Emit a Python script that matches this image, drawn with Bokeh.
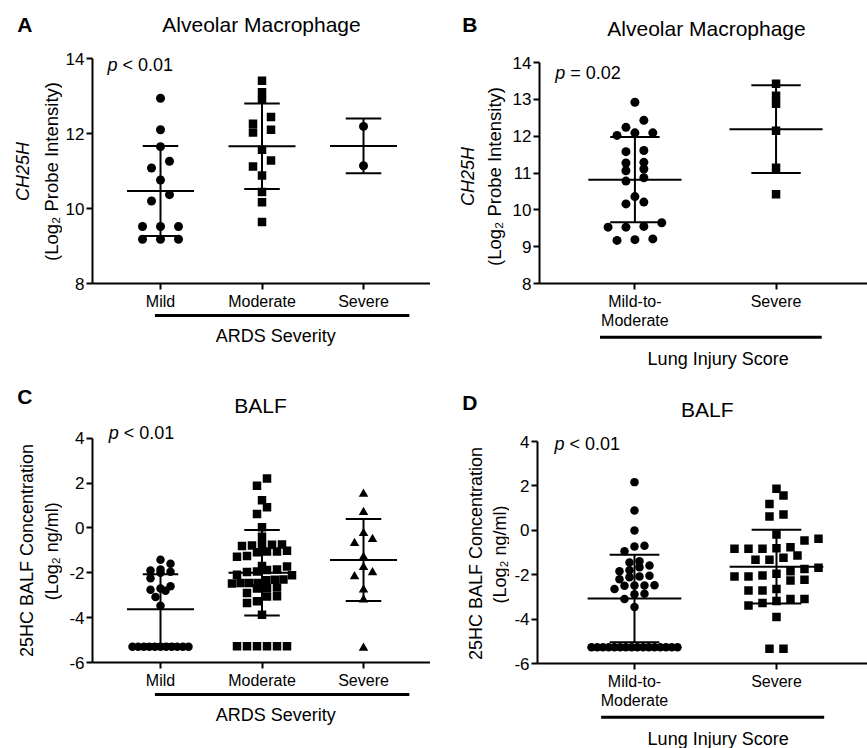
import math
import numpy as np
from bokeh.plotting import figure
from bokeh.models import FixedTicker, Label, Range1d
from bokeh.layouts import row, column
from bokeh.embed import file_html
from bokeh.resources import INLINE

FONT = "Liberation Sans"

# ---------------- data ----------------
# Panel A: Alveolar macrophage CH25H by ARDS severity
A_cats = ["Mild", "Moderate", "Severe"]
A_mild = [12.94, 12.10, 11.65, 11.26, 11.08, 10.76, 10.37, 10.20,
          9.52, 9.52, 9.52, 9.18, 9.18, 9.18]
A_moderate = [13.41, 13.10, 12.90, 12.44, 12.26, 12.10, 12.03, 11.57,
              11.28, 11.12, 10.88, 10.44, 10.17, 9.64]
A_severe = [12.19, 11.14]
A_mean = [10.47, 11.66, 11.67]
A_sd = [1.20, 1.14, 0.73]
A_yticks = [8, 10, 12, 14]

# Panel B: Alveolar macrophage CH25H by lung injury score
B_cats = ["Mild-to-\nModerate", "Severe"]
B_mild = [12.92, 12.43, 12.24, 12.09, 12.02, 12.09, 11.58, 11.61, 11.27,
          11.29, 11.11, 11.06, 10.87, 10.78, 10.36, 10.21, 10.16, 9.65,
          9.53, 9.55, 9.53, 9.17, 9.21, 9.19]
B_severe = [13.42, 13.10, 12.88, 12.15, 11.14, 10.42]
B_mean = [10.82, 12.19]
B_sd = [1.155, 1.19]
B_yticks = [8, 9, 10, 11, 12, 13, 14]

# Panel C: BALF 25HC by ARDS severity
C_cats = ["Mild", "Moderate", "Severe"]
C_mild = [-1.42, -1.60, -1.85, -1.90, -1.95, -2.00, -2.24, -2.60, -2.70,
          -2.76, -2.80, -3.08, -3.47,
          -5.30, -5.30, -5.30, -5.30, -5.30, -5.30, -5.30, -5.30, -5.30,
          -5.30, -5.30]
C_moderate = [2.21, 1.88, 1.24, 0.92, 0.62, 0.03, -0.39,
              -0.75, -0.78, -0.74, -0.80, -0.76,
              -1.05, -1.02, -1.08, -1.05,
              -1.25, -1.28, -1.72, -1.70, -1.87, -1.85, -1.94, -1.96,
              -2.09, -2.11, -2.31, -2.30, -2.33, -2.46, -2.45, -2.48, -2.46,
              -2.68, -2.66, -2.70, -2.90, -3.05, -3.06, -3.27, -3.35, -3.87,
              -5.28, -5.28, -5.28, -5.28, -5.28, -5.28]
C_severe = [1.51, 0.70, -0.24, -0.50, -0.68, -1.30, -1.75, -1.99, -2.16,
            -2.76, -3.20, -5.35]
C_mean = [-3.62, -2.00, -1.43]
C_sd = [1.56, 1.905, 1.83]
C_yticks = [-6, -4, -2, 0, 2, 4]

# Panel D: BALF 25HC by lung injury score
D_cats = ["Mild-to-\nModerate", "Severe"]
D_mild = [2.17, 0.89, -0.01, -0.70, -0.73, -0.94, -1.39, -1.45, -1.59,
          -1.66, -1.80, -1.84, -2.05, -2.08, -2.11, -2.20, -2.49, -2.47,
          -2.50, -2.49, -2.64, -2.86, -2.88, -3.09, -3.46,
          -5.27, -5.27, -5.27, -5.27, -5.27, -5.27, -5.27, -5.27, -5.27,
          -5.27, -5.27, -5.27, -5.27, -5.27, -5.27, -5.27]
D_severe = [1.87, 1.57, 1.19, 0.71, 0.62, -0.19, -0.38, -0.46, -0.76,
            -0.83, -0.83, -0.83, -0.81, -1.14, -1.24, -1.33, -1.33, -1.69,
            -1.74, -1.84, -1.96, -2.04, -2.08, -2.08, -2.23, -2.26, -2.64,
            -2.71, -2.71, -3.09, -3.09, -3.19, -3.28, -3.39, -3.91, -5.34,
            -5.34]
D_mean = [-3.07, -1.64]
D_sd = [1.97, 1.66]
D_yticks = [-6, -4, -2, 0, 2, 4]

# ---------------- helpers ----------------
CAP = 0.175   # half width of SD caps (category units)
MEANW = 0.33  # half width of mean line
ROT = math.pi / 2
TITLE_SIZE = 21


def swarm(vals, center, px_x, px_y, diam, step, maxw, binf=0.8):
    v = np.sort(np.asarray(vals, dtype=float))
    xs = np.zeros(len(v))
    thr = binf * diam / px_y
    rows, cur = [], [0]
    for i in range(1, len(v)):
        if v[i] - v[cur[0]] < thr:
            cur.append(i)
        else:
            rows.append(cur)
            cur = [i]
    rows.append(cur)
    for r in rows:
        n = len(r)
        s = step if n < 2 else min(step, maxw / (n - 1))
        for k, idx in enumerate(r):
            xs[idx] = center + (k - (n - 1) / 2) * s / px_x
    return xs, v


def blank(width, height, xr, yr):
    p = figure(width=width, height=height, x_range=Range1d(*xr),
               y_range=Range1d(*yr), output_backend="svg",
               toolbar_location=None, min_border=0,
               min_border_left=0, min_border_right=0,
               min_border_top=0, min_border_bottom=0)
    p.axis.visible = False
    p.grid.visible = False
    p.outline_line_color = None
    p.background_fill_color = "white"
    p.border_fill_color = "white"
    return p


def main(width, height, left, bottom, xr, ybounds, px_y, yticks, cats):
    ytop = ybounds[0] + bottom / px_y
    p = figure(width=width, height=height, x_range=Range1d(*xr),
               y_range=Range1d(ybounds[0], ytop), output_backend="svg",
               toolbar_location=None,
               min_border_left=left, min_border_right=0,
               min_border_top=0, min_border_bottom=height - bottom)
    p.outline_line_color = None
    p.grid.visible = False
    p.background_fill_color = "white"
    p.border_fill_color = "white"
    for ax in (p.xaxis[0], p.yaxis[0]):
        ax.axis_line_width = 2
        ax.axis_line_color = "black"
        ax.major_tick_line_width = 2
        ax.major_tick_line_color = "black"
        ax.major_tick_out = 6
        ax.major_tick_in = 0
        ax.minor_tick_line_color = None
        ax.major_label_text_font = FONT
        ax.major_label_text_color = "black"
    p.yaxis.bounds = ybounds
    p.xaxis.ticker = FixedTicker(ticks=list(range(1, len(cats) + 1)))
    p.xaxis.major_label_overrides = {i + 1: c for i, c in enumerate(cats)}
    p.xaxis.major_label_text_font_size = "16px"
    p.xaxis.major_label_standoff = 3
    p.xaxis.major_label_text_line_height = 1.15
    p.yaxis.ticker = FixedTicker(ticks=yticks)
    p.yaxis.major_label_overrides = {t: str(t) for t in yticks}
    p.yaxis.major_label_text_font_size = "17px"
    p.yaxis.major_label_standoff = 2
    return p


def draw_group(p, vals, center, marker, size, step, maxw, px_x, px_y,
               binf=0.8):
    xs, ys = swarm(vals, center, px_x, px_y, size, step, maxw, binf)
    p.scatter(xs, ys, marker=marker, size=size, fill_color="black",
              line_color=None)


def draw_bars(p, means, sds):
    c = np.arange(1, len(means) + 1, dtype=float)
    m = np.asarray(means)
    s = np.asarray(sds)
    kw = dict(line_width=2, line_color="black")
    p.segment(c, m - s, c, m + s, **kw)
    p.segment(c - CAP, m + s, c + CAP, m + s, **kw)
    p.segment(c - CAP, m - s, c + CAP, m - s, **kw)
    p.segment(c - MEANW, m, c + MEANW, m, **kw)


def lab(p, text, x, y, size, align="left", style="normal", angle=0.0,
        units="data"):
    p.add_layout(Label(x=x, y=y, x_units=units, y_units=units,
                       text=text, text_font=FONT,
                       text_font_size=f"{size}px", text_font_style=style,
                       text_align=align, text_baseline="middle",
                       angle=angle, text_color="black"))


def pval(p, x, y, rest):
    lab(p, "p", x, y, 18, style="italic", units="screen")
    lab(p, rest, x + 15, y, 18, units="screen")


# ---------------- Panel A (page x 0..430, y 0..370) ----------------
pxA, pyA = 101.5, 225 / 6
xA = (0.330, 3.660)
leftA = blank(62, 370, (0, 62), (370, 0))
lab(leftA, "A", 16.7, 24.3, 21, style="bold")
lab(leftA, "CH25H", 22.5, 171, 18, align="center", style="italic",
    angle=ROT)
lab(leftA, "(Log\u2082 Probe Intensity)", 50.8, 171, 18.5, align="center",
    angle=ROT)
mA = main(368, 312, 30, 283, xA, (8, 14), pyA, A_yticks, A_cats)
draw_group(mA, A_mild, 1, "circle", 9, 18, 60, pxA, pyA)
draw_group(mA, A_moderate, 2, "square", 8.5, 18, 60, pxA, pyA)
draw_group(mA, A_severe, 3, "circle", 9, 18, 60, pxA, pyA)
draw_bars(mA, A_mean, A_sd)
lab(mA, "Alveolar Macrophage", 169, 259.3, TITLE_SIZE, align="center",
    units="screen")
pval(mA, 15, 219, "< 0.01")
bA = blank(368, 58, (xA[0] - 30 / pxA, xA[1]), (370, 312))
bA.segment([0.704], [315], [3.433], [315], line_width=3, line_color="black")
lab(bA, "ARDS Severity", 2.0, 335, 18, align="center")
panelA = row(leftA, column(mA, bA))

# ---------------- Panel B (page x 430..867, y 0..370) ----------------
pxB, pyB = 142.0, 221 / 6
xB = (0.324, 2.648)
leftB = blank(79, 370, (430, 509), (370, 0))
lab(leftB, "B", 461.7, 24.3, 21, style="bold")
lab(leftB, "CH25H", 467.7, 176, 18, align="center", style="italic",
    angle=ROT)
lab(leftB, "(Log\u2082 Probe Intensity)", 494.2, 176, 18.5, align="center",
    angle=ROT)
mB = main(358, 333, 28, 283, xB, (8, 14), pyB, B_yticks, B_cats)
draw_group(mB, B_mild, 1, "circle", 9, 18, 60, pxB, pyB)
draw_group(mB, B_severe, 2, "square", 8.5, 18, 60, pxB, pyB)
draw_bars(mB, B_mean, B_sd)
lab(mB, "Alveolar Macrophage", 167, 255.2, TITLE_SIZE, align="center",
    units="screen")
pval(mB, 15.7, 210.5, "= 0.02")
bB = blank(358, 37, (xB[0] - 28 / pxB, xB[1]), (370, 333))
bB.segment([0.592], [336.7], [2.296], [336.7], line_width=3,
           line_color="black")
lab(bB, "Lung Injury Score", 1.5, 358, 18, align="center")
panelB = row(leftB, column(mB, bB))

# ---------------- Panel C (page x 0..430, y 370..748) ----------------
pxC, pyC = 101.5, 225 / 10
xC = (0.330, 3.660)
leftC = blank(62, 378, (0, 62), (748, 370))
lab(leftC, "C", 16.7, 395.7, 21, style="bold")
lab(leftC, "25HC BALF Concentration", 26.7, 550, 18, align="center",
    angle=ROT)
lab(leftC, "(Log\u2082 ng/ml)", 51.3, 550.8, 18, align="center", angle=ROT)
mC = main(368, 321, 30, 293, xC, (-6, 4), pyC, C_yticks, C_cats)
draw_group(mC, C_mild, 1, "circle", 8.5, 10, 56, pxC, pyC)
draw_group(mC, C_moderate, 2, "square", 8.5, 10, 60, pxC, pyC, 1.0)
draw_group(mC, C_severe, 3, "triangle", 9.5, 18, 60, pxC, pyC)
draw_bars(mC, C_mean, C_sd)
lab(mC, "BALF", 168, 257.3, TITLE_SIZE, align="center", units="screen")
pval(mC, 16.3, 229.7, "< 0.01")
bC = blank(368, 57, (xC[0] - 30 / pxC, xC[1]), (748, 691))
bC.segment([0.704], [694], [3.433], [694], line_width=3, line_color="black")
lab(bC, "ARDS Severity", 2.0, 714, 18, align="center")
panelC = row(leftC, column(mC, bC))

# ---------------- Panel D (page x 430..867, y 370..748) ----------------
pxD, pyD = 142.0, 222 / 10
xD = (0.317, 2.641)
leftD = blank(79, 378, (430, 509), (748, 370))
lab(leftD, "D", 461.7, 401.7, 21, style="bold")
lab(leftD, "25HC BALF Concentration", 475, 553, 18, align="center",
    angle=ROT)
lab(leftD, "(Log\u2082 ng/ml)", 499.5, 554, 18, align="center", angle=ROT)
mD = main(358, 342, 28, 293, xD, (-6, 4), pyD, D_yticks, D_cats)
draw_group(mD, D_mild, 1, "circle", 8.5, 10, 86, pxD, pyD)
draw_group(mD, D_severe, 2, "square", 8.5, 14, 90, pxD, pyD, 1.3)
draw_bars(mD, D_mean, D_sd)
lab(mD, "BALF", 169.7, 254.2, TITLE_SIZE, align="center", units="screen")
pval(mD, 17, 220, "< 0.01")
bD = blank(358, 36, (xD[0] - 28 / pxD, xD[1]), (748, 712))
bD.segment([0.606], [716.7], [2.310], [716.7], line_width=3,
           line_color="black")
lab(bD, "Lung Injury Score", 1.5, 738, 18, align="center")
panelD = row(leftD, column(mD, bD))

layout = column(row(panelA, panelB), row(panelC, panelD))
open("out.html", "w").write(file_html(layout, INLINE))
